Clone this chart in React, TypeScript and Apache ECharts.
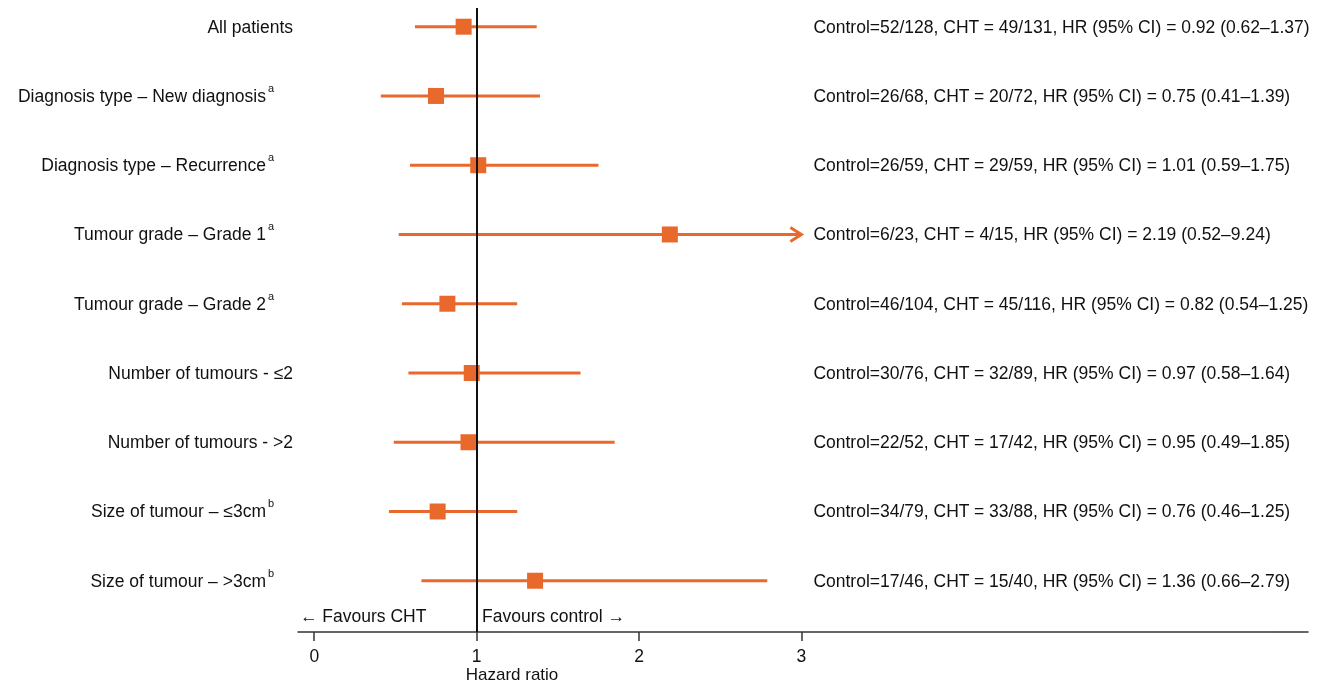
import React, { useEffect, useRef } from "react";
import * as echarts from "echarts";

const categories = [
  "All patients",
  "Diagnosis type – New diagnosis",
  "Diagnosis type – Recurrence",
  "Tumour grade – Grade 1",
  "Tumour grade – Grade 2",
  "Number of tumours - ≤2",
  "Number of tumours - >2",
  "Size of tumour – ≤3cm",
  "Size of tumour – >3cm",
];
const superscripts = ["", "a", "a", "a", "a", "", "", "b", "b"];
const hazardRatio = [0.92, 0.75, 1.01, 2.19, 0.82, 0.97, 0.95, 0.76, 1.36];
const ciLower = [0.62, 0.41, 0.59, 0.52, 0.54, 0.58, 0.49, 0.46, 0.66];
const ciUpper = [1.37, 1.39, 1.75, 9.24, 1.25, 1.64, 1.85, 1.25, 2.79];
const controlEvents = ["52/128", "26/68", "26/59", "6/23", "46/104", "30/76", "22/52", "34/79", "17/46"];
const chtEvents = ["49/131", "20/72", "29/59", "4/15", "45/116", "32/89", "17/42", "33/88", "15/40"];
const xTicks = [0, 1, 2, 3];
const displayMax = 3;

const ORANGE = "#E9692C";
const TEXT = "#111";
const FONT = "'Liberation Sans', Arial, Helvetica, sans-serif";
const FS = 17.5;

export default function App() {
  const ref = useRef<HTMLDivElement>(null);
  useEffect(() => {
    if (!ref.current) return;
    const chart = echarts.init(ref.current, null, { renderer: "svg" });
    const rows = categories.map((_, i) => [hazardRatio[i], i, ciLower[i], ciUpper[i]]);
    const fmt = (v: number) => v.toFixed(2);
    const annotations = categories.map(
      (_, i) =>
        `Control=${controlEvents[i]}, CHT = ${chtEvents[i]}, HR (95% CI) = ${fmt(hazardRatio[i])} (${fmt(ciLower[i])}–${fmt(ciUpper[i])})`
    );

    chart.setOption({
      animation: false,
      grid: { left: 298, width: 1010, top: 8, bottom: 52, containLabel: false },
      xAxis: {
        type: "value",
        min: -0.1,
        max: 6.12,
        splitLine: { show: false },
        axisLine: { show: true, onZero: false, lineStyle: { color: "#333", width: 1.5 } },
        axisTick: { show: true, customValues: xTicks, length: 9, lineStyle: { color: "#333", width: 1.5 } },
        axisLabel: { customValues: xTicks, margin: 15, fontSize: FS, color: TEXT, fontFamily: FONT },
      },
      yAxis: { type: "value", min: -0.27, max: 8.74, inverse: true, show: false },
      graphic: [
        { type: "text", left: 300, top: 607, style: { text: "← Favours CHT", fill: TEXT, font: `${FS}px ${FONT}` } },
        { type: "text", left: 482, top: 607, style: { text: "Favours control →", fill: TEXT, font: `${FS}px ${FONT}` } },
        { type: "text", x: 512, y: 674, style: { text: "Hazard ratio", align: "center", verticalAlign: "middle", fill: TEXT, font: `17px ${FONT}` } },
      ],
      series: [
        {
          type: "custom",
          z: 1,
          data: rows,
          clip: false,
          renderItem: (params: any, api: any) => {
            const i = api.value(1);
            const lo = api.value(2);
            const hi = api.value(3);
            const truncated = hi > displayMax;
            const p1 = api.coord([lo, i]);
            const p2 = api.coord([Math.min(hi, displayMax), i]);
            const children: any[] = [
              {
                type: "line",
                shape: { x1: p1[0], y1: p1[1], x2: truncated ? p2[0] - 1 : p2[0], y2: p2[1] },
                style: { stroke: ORANGE, lineWidth: 3 },
              },
            ];
            if (truncated) {
              children.push({
                type: "polyline",
                shape: { points: [[p2[0] - 11, p2[1] - 7], [p2[0], p2[1]], [p2[0] - 11, p2[1] + 7]] },
                style: { stroke: ORANGE, lineWidth: 3, fill: "none" },
              });
            }
            return { type: "group", children };
          },
        },
        {
          type: "custom",
          z: 2,
          data: rows,
          clip: false,
          renderItem: (params: any, api: any) => {
            const i = api.value(1);
            const idx = params.dataIndex;
            const left = api.coord([-0.1, i]);
            const right = api.coord([displayMax, i]);
            const sup = superscripts[idx];
            const children: any[] = [
              {
                type: "text",
                x: left[0] - (sup ? 32 : 5),
                y: left[1],
                style: { text: categories[idx], align: "right", verticalAlign: "middle", fill: TEXT, font: `${FS}px ${FONT}` },
              },
              {
                type: "text",
                x: right[0] + 12,
                y: right[1],
                style: { text: annotations[idx], align: "left", verticalAlign: "middle", fill: TEXT, font: `${FS}px ${FONT}` },
              },
            ];
            if (sup) {
              children.push({
                type: "text",
                x: left[0] - 30,
                y: left[1] - 8,
                style: { text: sup, align: "left", verticalAlign: "middle", fill: TEXT, font: `11px ${FONT}` },
              });
            }
            return { type: "group", children };
          },
          markLine: {
            silent: true,
            symbol: "none",
            label: { show: false },
            lineStyle: { color: "#111", width: 2, type: "solid" },
            data: [{ xAxis: 1 }],
          },
        },
        {
          type: "scatter",
          z: 3,
          symbol: "rect",
          symbolSize: [16, 16],
          itemStyle: { color: ORANGE, opacity: 1 },
          data: rows.map((r) => [r[0], r[1]]),
        },
      ],
    });
    return () => chart.dispose();
  }, []);
  return <div ref={ref} style={{ position: "fixed", left: 0, top: 0, width: 1329, height: 684 }} />;
}
